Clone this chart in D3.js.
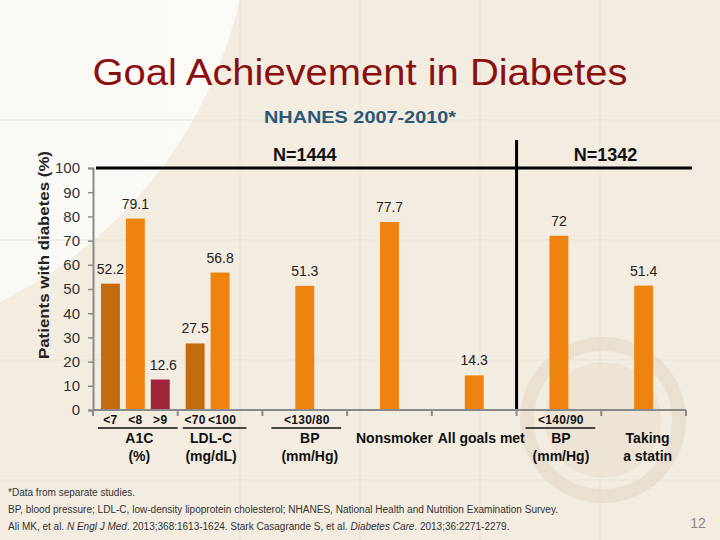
<!DOCTYPE html>
<html>
<head>
<meta charset="utf-8">
<script src="https://cdn.jsdelivr.net/npm/d3@7/dist/d3.min.js"></script>
<style>
  html, body { margin: 0; padding: 0; background: #F2ECE1; }
  svg { display: block; font-family: "Liberation Sans", Arial, sans-serif; }
</style>
</head>
<body>
<svg id="chart" width="720" height="540"></svg>
<script>
// ---- data ----
const categories = ["A1C", "LDL-C", "BP <130/80", "Nonsmoker", "All goals met", "BP <140/90", "Taking a statin"];
const seriesKeys = ["s1", "s2", "s3"];
const s1Values = [52.2, 27.5, null, null, null, null, null];
const s2Values = [79.1, 56.8, 51.3, 77.7, 14.3, 72, 51.4];
const s3Values = [12.6, null, null, null, null, null, null];
const s1Sub = ["<7", "<70", "", "", "", "", ""];
const s2Sub = ["<8", "<100", "<130/80", "", "", "<140/90", ""];
const s3Sub = [">9", "", "", "", "", "", ""];
const catLine1 = ["A1C", "LDL-C", "BP", "Nonsmoker", "All goals met", "BP", "Taking"];
const catLine2 = ["(%)", "(mg/dL)", "(mm/Hg)", "", "", "(mm/Hg)", "a statin"];
const yTicks = [0, 10, 20, 30, 40, 50, 60, 70, 80, 90, 100];
const groupLabels = ["N=1444", "N=1342"];

const svg = d3.select("#chart");

// ---- background ----
const defs = svg.append("defs");
const lg = defs.append("linearGradient").attr("id", "lightGrad").attr("x1", "0").attr("x2", "1").attr("y1", "0").attr("y2", "0");
lg.append("stop").attr("offset", "0").attr("stop-color", "#F4EFE6");
lg.append("stop").attr("offset", "0.25").attr("stop-color", "#FAF8F3");
lg.append("stop").attr("offset", "1").attr("stop-color", "#FBFAF6");
svg.append("rect").attr("width", 720).attr("height", 540).attr("fill", "#F2ECE1");
svg.append("circle").attr("cx", -196).attr("cy", -100).attr("r", 447).attr("fill", "url(#lightGrad)");
const gridG = svg.append("g").attr("stroke", "#E9E2D5").attr("stroke-width", 1);
[240, 360, 480, 600].forEach(v => gridG.append("line").attr("x1", v).attr("x2", v).attr("y1", 0).attr("y2", 540));
[120, 240, 360, 480].forEach(v => gridG.append("line").attr("x1", 0).attr("x2", 720).attr("y1", v).attr("y2", v));
// faint seal watermark
svg.append("circle").attr("cx", 603).attr("cy", 420).attr("r", 76).attr("fill", "none")
  .attr("stroke", "#E4D8C6").attr("stroke-width", 14).attr("opacity", 0.6);
svg.append("circle").attr("cx", 603).attr("cy", 420).attr("r", 58).attr("fill", "#E6DBCA").attr("opacity", 0.45);

// ---- scales ----
const y = d3.scaleLinear().domain([0, 100]).range([410, 168]);
const x0 = d3.scaleBand().domain(categories).range([93, 686]).padding(0);
const x1 = d3.scaleBand().domain(seriesKeys).range([0, x0.bandwidth()]).paddingInner(0.24).paddingOuter(0.32);
const colors = { s1: "#C46A10", s2: "#EE840F", s3: "#A0253A" };
const valuesBy = { s1: s1Values, s2: s2Values, s3: s3Values };
const subBy = { s1: s1Sub, s2: s2Sub, s3: s3Sub };

const bars = [];
seriesKeys.forEach(k => categories.forEach((c, i) => {
  if (valuesBy[k][i] != null) bars.push({ cat: c, key: k, value: valuesBy[k][i] });
}));

// ---- titles ----
svg.append("text").attr("x", 360).attr("y", 85).attr("text-anchor", "middle")
  .attr("font-size", 36).attr("fill", "#8C0F10")
  .attr("textLength", 535).attr("lengthAdjust", "spacingAndGlyphs")
  .text("Goal Achievement in Diabetes");
svg.append("text").attr("x", 360).attr("y", 123).attr("text-anchor", "middle")
  .attr("font-size", 17).attr("font-weight", "bold").attr("fill", "#2C5877")
  .attr("textLength", 192).attr("lengthAdjust", "spacingAndGlyphs")
  .text("NHANES 2007-2010*");

// ---- group separators ----
const divX = x0(categories[5]);
svg.append("line").attr("x1", 96).attr("x2", 692).attr("y1", y(100)).attr("y2", y(100))
  .attr("stroke", "#000").attr("stroke-width", 3);
svg.append("line").attr("x1", divX).attr("x2", divX).attr("y1", 140).attr("y2", y(0))
  .attr("stroke", "#000").attr("stroke-width", 3);
const groupCenters = [x0(categories[2]) + x0.bandwidth() / 2, x0(categories[5]) + x0.bandwidth() * 1.05];
groupLabels.forEach((t, i) => {
  svg.append("text").attr("x", groupCenters[i]).attr("y", 161).attr("text-anchor", "middle")
    .attr("font-size", 18).attr("font-weight", "bold").attr("fill", "#111").text(t);
});

// ---- bars ----
svg.append("g").selectAll("rect").data(bars).join("rect")
  .attr("x", d => x0(d.cat) + x1(d.key))
  .attr("width", x1.bandwidth())
  .attr("y", d => y(d.value))
  .attr("height", d => y(0) - y(d.value))
  .attr("fill", d => colors[d.key]);

svg.append("g").selectAll("text").data(bars).join("text")
  .attr("x", d => x0(d.cat) + x1(d.key) + x1.bandwidth() / 2 + (d.key === "s3" ? 3 : 0))
  .attr("y", d => y(d.value) - 10)
  .attr("text-anchor", "middle").attr("font-size", 14).attr("fill", "#222")
  .text(d => String(d.value));

// ---- y axis ----
const yAxis = svg.append("g").attr("transform", "translate(93,0)")
  .call(d3.axisLeft(y).tickValues(yTicks).tickSize(5).tickPadding(8).tickFormat(d3.format("d")));
yAxis.select(".domain").attr("stroke", "#8A8A8A").attr("stroke-width", 2);
yAxis.selectAll(".tick line").attr("stroke", "#8A8A8A").attr("stroke-width", 1.5);
yAxis.selectAll(".tick text").attr("font-size", 15).attr("fill", "#333")
  .attr("font-family", "'Liberation Sans', Arial, sans-serif");

svg.append("text").attr("transform", "translate(49,255) rotate(-90)")
  .attr("text-anchor", "middle").attr("font-size", 15).attr("font-weight", "bold").attr("fill", "#222")
  .attr("textLength", 208).attr("lengthAdjust", "spacingAndGlyphs")
  .text("Patients with diabetes (%)");

// ---- x axis ----
const xAxisG = svg.append("g").attr("stroke", "#8A8A8A").attr("stroke-width", 2);
xAxisG.append("line").attr("x1", 93).attr("x2", 686).attr("y1", y(0)).attr("y2", y(0));
const bounds = categories.map(c => x0(c)).concat([x0(categories[6]) + x0.bandwidth()]);
bounds.forEach(b => xAxisG.append("line").attr("x1", b).attr("x2", b).attr("y1", y(0)).attr("y2", y(0) + 6));

// sub labels
const subs = [];
seriesKeys.forEach(k => categories.forEach((c, i) => { if (subBy[k][i]) subs.push({ cat: c, key: k, t: subBy[k][i] }); }));
svg.append("g").selectAll("text").data(subs).join("text")
  .attr("x", d => x0(d.cat) + x1(d.key) + x1.bandwidth() / 2 + (d.t.length > 3 ? 2 : 0))
  .attr("y", 424).attr("text-anchor", "middle")
  .attr("font-size", 12).attr("font-weight", "bold").attr("fill", "#111").attr("letter-spacing", 0.3)
  .text(d => d.t);

// underlines for grouped labels
const underlined = categories.filter((c, i) => s1Sub[i] || s2Sub[i] || s3Sub[i]);
svg.append("g").selectAll("line").data(underlined).join("line")
  .attr("x1", c => x0(c) + (c === "BP <130/80" || c === "BP <140/90" ? 9 : 5))
  .attr("x2", c => x0(c) + x0.bandwidth() - (c === "LDL-C" ? 16 : (c.startsWith("BP") ? 6 : 0)))
  .attr("y1", 428).attr("y2", 428).attr("stroke", "#111").attr("stroke-width", 1.5);

// category labels
const catDx = [4, -9, 5, 5, 7, 2, 4];
const catG = svg.append("g").attr("font-size", 14).attr("font-weight", "bold").attr("fill", "#111").attr("text-anchor", "middle");
categories.forEach((c, i) => {
  const cx = x0(c) + x0.bandwidth() / 2 + catDx[i];
  catG.append("text").attr("x", cx).attr("y", 443).text(catLine1[i]);
  if (catLine2[i]) catG.append("text").attr("x", cx).attr("y", 461).text(catLine2[i]);
});

// ---- footnotes ----
const fn = svg.append("g").attr("font-size", 10).attr("fill", "#333");
fn.append("text").attr("x", 8).attr("y", 496).attr("textLength", 127).attr("lengthAdjust", "spacingAndGlyphs")
  .text("*Data from separate studies.");
fn.append("text").attr("x", 8).attr("y", 513).attr("textLength", 550).attr("lengthAdjust", "spacingAndGlyphs")
  .text("BP, blood pressure; LDL-C, low-density lipoprotein cholesterol; NHANES, National Health and Nutrition Examination Survey.");
const ref = fn.append("text").attr("x", 8).attr("y", 530);
ref.append("tspan").text("Ali MK, et al. ");
ref.append("tspan").attr("font-style", "italic").text("N Engl J Med");
ref.append("tspan").text(". 2013;368:1613-1624. Stark Casagrande S, et al. ");
ref.append("tspan").attr("font-style", "italic").text("Diabetes Care");
ref.append("tspan").text(". 2013;36:2271-2279.");

svg.append("text").attr("x", 698).attr("y", 528).attr("text-anchor", "middle")
  .attr("font-size", 14).attr("fill", "#888").text("12");
</script>
</body>
</html>
